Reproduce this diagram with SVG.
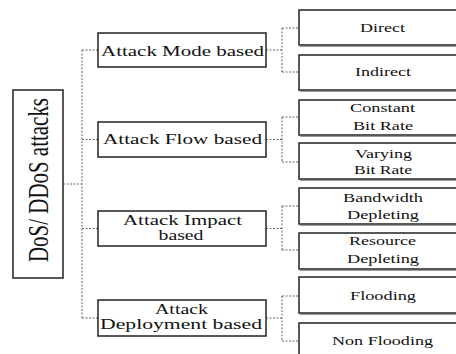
<svg xmlns="http://www.w3.org/2000/svg" width="456" height="354" viewBox="0 0 456 354">
<style>
.box{fill:#fff;stroke:#222;stroke-width:1.5}
.sh{fill:none;stroke:#999;stroke-width:1.2}
.t1{font-family:"Liberation Serif","Times New Roman",serif;font-size:15px;fill:#111;text-anchor:middle}
.t1s{font-size:14px}
.t2{font-family:"Liberation Serif","Times New Roman",serif;font-size:13px;fill:#111;text-anchor:middle}
.c{fill:none;stroke:#666;stroke-width:1;stroke-dasharray:2 1.5}
</style>
<rect width="456" height="354" fill="#fff"/>
<g id="connectors">
<path class="c" d="M63 184H82M82 50V318M82 50H98M82 139.5H98M82 228.5H98M82 318H98"/>
<path class="c" d="M266 50H282M282 28V72M282 28H299M282 72H299"/>
<path class="c" d="M266 139.5H282M282 117H299M282 117V162M282 162H299"/>
<path class="c" d="M266 228.5H282M282 206V250M282 206H299M282 250H299"/>
<path class="c" d="M266 318H282M282 296V341M282 296H299M282 341H299"/>
</g>
<g id="root">
<rect class="box" x="13" y="90" width="50" height="188"/>
<text class="t1" style="font-size:20.5px" transform="translate(48,180) scale(1.45,1) rotate(-90)" x="0" y="0" textLength="164" lengthAdjust="spacingAndGlyphs">DoS/ DDoS attacks</text>
</g>
<g id="mode">
<rect class="box" x="98" y="33" width="168" height="34"/>
<text class="t1" x="182.5" y="56" textLength="163" lengthAdjust="spacingAndGlyphs">Attack Mode based</text>
</g>
<g id="flow">
<rect class="box" x="98" y="122" width="168" height="35"/>
<text class="t1" x="182.5" y="144" textLength="159" lengthAdjust="spacingAndGlyphs">Attack Flow based</text>
</g>
<g id="impact">
<rect class="box" x="98" y="211" width="168" height="35"/>
<text class="t1 t1s" x="182.5" y="225" textLength="119" lengthAdjust="spacingAndGlyphs">Attack Impact</text>
<text class="t1 t1s" x="181" y="240" textLength="45" lengthAdjust="spacingAndGlyphs">based</text>
</g>
<g id="deployment">
<rect class="box" x="98" y="300" width="168" height="36"/>
<text class="t1 t1s" x="181.5" y="314" textLength="53" lengthAdjust="spacingAndGlyphs">Attack</text>
<text class="t1 t1s" x="181" y="328.5" textLength="162" lengthAdjust="spacingAndGlyphs">Deployment based</text>
</g>
<g id="direct">
<rect class="box" x="299" y="10" width="160" height="35"/>
<line class="sh" x1="300" y1="46.5" x2="456" y2="46.5"/>
<text class="t2" x="382.5" y="32" textLength="45" lengthAdjust="spacingAndGlyphs">Direct</text>
</g>
<g id="indirect">
<rect class="box" x="299" y="55" width="160" height="35"/>
<line class="sh" x1="300" y1="91.5" x2="456" y2="91.5"/>
<text class="t2" x="383" y="76" textLength="56" lengthAdjust="spacingAndGlyphs">Indirect</text>
</g>
<g id="constant">
<rect class="box" x="299" y="100" width="160" height="35"/>
<line class="sh" x1="300" y1="136.5" x2="456" y2="136.5"/>
<text class="t2" x="382.5" y="112" textLength="65" lengthAdjust="spacingAndGlyphs">Constant</text>
<text class="t2" x="383" y="130" textLength="60" lengthAdjust="spacingAndGlyphs">Bit Rate</text>
</g>
<g id="varying">
<rect class="box" x="299" y="143" width="160" height="36"/>
<line class="sh" x1="300" y1="180.5" x2="456" y2="180.5"/>
<text class="t2" x="383.5" y="158" textLength="57" lengthAdjust="spacingAndGlyphs">Varying</text>
<text class="t2" x="383" y="174" textLength="58" lengthAdjust="spacingAndGlyphs">Bit Rate</text>
</g>
<g id="bandwidth">
<rect class="box" x="299" y="188" width="160" height="36"/>
<line class="sh" x1="300" y1="225.5" x2="456" y2="225.5"/>
<text class="t2" x="383" y="202" textLength="80" lengthAdjust="spacingAndGlyphs">Bandwidth</text>
<text class="t2" x="383" y="219" textLength="72" lengthAdjust="spacingAndGlyphs">Depleting</text>
</g>
<g id="resource">
<rect class="box" x="299" y="233" width="160" height="36"/>
<line class="sh" x1="300" y1="270.5" x2="456" y2="270.5"/>
<text class="t2" x="382.5" y="245" textLength="67" lengthAdjust="spacingAndGlyphs">Resource</text>
<text class="t2" x="383" y="263" textLength="72" lengthAdjust="spacingAndGlyphs">Depleting</text>
</g>
<g id="flooding">
<rect class="box" x="299" y="277" width="160" height="36"/>
<line class="sh" x1="300" y1="314.5" x2="456" y2="314.5"/>
<text class="t2" x="383" y="300" textLength="66" lengthAdjust="spacingAndGlyphs">Flooding</text>
</g>
<g id="nonflooding">
<rect class="box" x="299" y="323" width="160" height="40"/>
<text class="t2" x="382.5" y="345" textLength="101" lengthAdjust="spacingAndGlyphs">Non Flooding</text>
</g>
</svg>
